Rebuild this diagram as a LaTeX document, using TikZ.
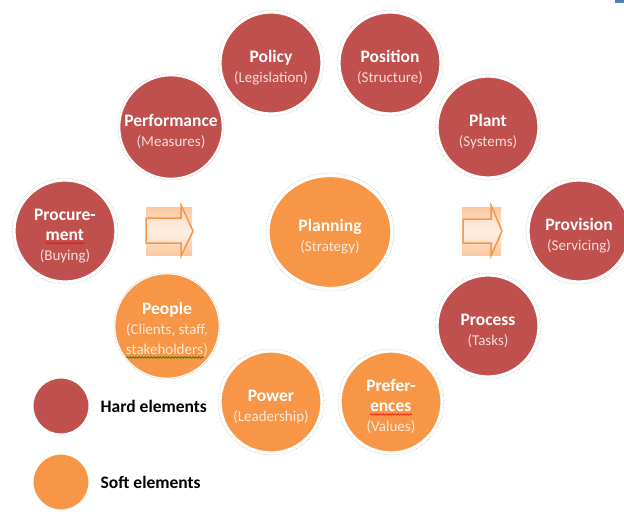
\documentclass[tikz,border=0pt]{standalone}
\usepackage{fontspec}
\setmainfont{Carlito}
\usetikzlibrary{positioning,shapes.geometric,decorations.pathmorphing}
\definecolor{hardred}{HTML}{C0504D}
\definecolor{softorange}{HTML}{F79646}
\definecolor{hardpale}{HTML}{F2DCDB}
\definecolor{softpale}{HTML}{FDE9D9}
\definecolor{arrowpeach}{HTML}{FBC9A0}
\definecolor{cornerblue}{HTML}{4F81BD}
\newsavebox\wavebox
\newcommand\spellwave[2]{\sbox\wavebox{#2}\rlap{\usebox\wavebox}\tikz[baseline=0pt]\draw[#1,line width=0.6pt,decorate,decoration={snake,amplitude=0.8pt,segment length=3pt}] (0pt,-3pt) -- (\wd\wavebox,-3pt);}
\newcommand\subfont{\fontsize{15}{19}\selectfont\mdseries\color{subpale}}
\newcommand\lift{\rule{0pt}{21pt}}
\tikzset{
  element/.style={circle,minimum size=100pt,inner sep=0pt,align=center,
    draw=white,line width=1.2pt,text=white,
    font=\fontsize{17.5}{20}\selectfont\bfseries},
  hard/.style={element,fill=hardred,execute at begin node=\colorlet{subpale}{hardpale}},
  soft/.style={element,fill=softorange,execute at begin node=\colorlet{subpale}{softpale}},
  glow/.style={draw=gray!60,densely dotted,line width=0.5pt},
  keydot/.style={circle,minimum size=56pt,inner sep=0pt,draw=white,line width=1pt},
  keytext/.style={font=\fontsize{17.5}{20}\selectfont\bfseries,inner sep=0pt,right=11pt of #1},
  blockarrow/.style={draw=softorange,line width=1.5pt,fill=white,fill opacity=0.3,line join=miter}
}
\begin{document}
\begin{tikzpicture}[x=1pt,y=-1pt]
    \useasboundingbox (0,0) rectangle (624,514);
    \clip (0,0) rectangle (624,514);
    \fill[cornerblue] (615,0) rectangle (624,2.5);

    \node[hard] (policy)      at (271,63)  {\lift Policy\\{\subfont (Legislation)}};
    \node[hard] (position)    at (390,63)  {\lift Position\\{\subfont (Structure)}};
    \node[hard] (performance) at (171,127) {\lift Performance\\{\subfont (Measures)}};
    \node[hard] (plant)       at (488,127) {\lift Plant\\{\subfont (Systems)}};
    \node[hard] (procurement) at (65,231)  {\lift Procure-\\\spellwave{red}{ment}\\{\subfont (Buying)}};
    \node[soft,ellipse,minimum width=122pt,minimum height=111pt] (planning) at (330,232) {\lift Planning\\{\subfont (Strategy)}};
    \node[hard] (provision)   at (579,231) {\lift Provision\\{\subfont (Servicing)}};
    \node[soft] (people)      at (167,326) {\lift People\\{\subfont (Clients, staff,}\\{\subfont\spellwave{green!50!black}{stakeholders})}};
    \node[hard] (process)     at (488,326) {\lift Process\\{\subfont (Tasks)}};
    \node[soft] (power)       at (271,402) {\lift Power\\{\subfont (Leadership)}};
    \node[soft] (preferences) at (391,402) {\lift Prefer-\\\spellwave{red}{ences}\\{\subfont (Values)}};

    \foreach \n in {policy,position,performance,plant,procurement,provision,people,process,power,preferences}
      \draw[glow] (\n.center) circle (53pt);
    \draw[glow] (planning.center) ellipse (64pt and 59pt);

    \shade[top color=arrowpeach,bottom color=arrowpeach,middle color=arrowpeach!45!white] (146,207) rectangle (192,255);
    \draw[blockarrow] (146,218) -- (181,218) -- (181,205) -- (193,231) -- (181,256) -- (181,243) -- (146,243) -- cycle;
    \shade[top color=arrowpeach,bottom color=arrowpeach,middle color=arrowpeach!45!white] (462,207) rectangle (501,255);
    \draw[blockarrow] (463,219) -- (491,219) -- (491,205) -- (502,231) -- (491,256) -- (491,243) -- (463,243) -- cycle;

    \node[keydot,fill=hardred] (hardkey) at (61,406) {};
    \node[keytext=hardkey] (hardlabel) {Hard elements};
    \node[keydot,fill=softorange] (softkey) at (61,482) {};
    \node[keytext=softkey] (softlabel) {Soft elements};
  \end{tikzpicture}
\end{document}
